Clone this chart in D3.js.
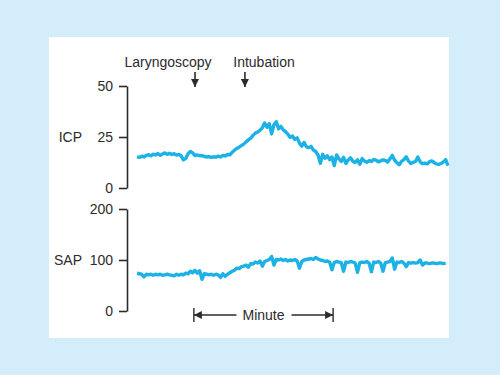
<!DOCTYPE html>
<html>
<head>
<meta charset="utf-8">
<script src="https://cdn.jsdelivr.net/npm/d3@7"></script>
<style>
  body { margin: 0; background: #d3eefa; }
  svg { display: block; font-family: "Liberation Sans", Arial, sans-serif; }
</style>
</head>
<body>
<div id="chart"></div>
<script>
// one sample per second
const icp = [15.3, 15.0, 15.6, 15.2, 16.0, 16.3, 15.8, 16.6, 16.2, 16.9,
  16.0, 16.7, 17.2, 16.5, 17.0, 16.4, 16.8, 16.1, 16.5, 15.8,
  13.8, 14.5, 16.8, 17.9, 17.2, 15.9, 16.2, 15.8, 15.9, 15.5,
  15.2, 15.4, 15.0, 15.3, 15.1, 15.6, 15.2, 16.0, 15.7, 16.4,
  16.3, 17.5, 18.5, 19.4, 20.0, 20.8, 21.5, 22.6, 23.6, 24.4,
  25.8, 26.9, 27.5, 28.3, 29.5, 31.8, 29.8, 31.5, 26.5, 31.0,
  32.5, 29.0, 30.2, 28.5, 27.6, 26.4, 24.8, 25.5, 23.8, 24.6,
  22.0, 20.5, 22.3, 20.2, 19.8, 20.4, 18.6, 17.9, 16.2, 12.1,
  16.5, 14.6, 15.8, 13.9, 15.2, 11.0, 16.2, 14.3, 13.0, 15.0,
  12.0, 13.7, 14.8, 13.1, 12.5, 13.8, 11.6, 14.4, 13.2, 12.6,
  13.4, 13.0, 14.0, 13.6, 12.8, 13.3, 13.8, 13.5, 12.7, 14.3,
  16.0, 13.6, 12.4, 11.4, 13.1, 13.9, 15.3, 13.2, 12.0, 12.6,
  13.0, 15.2, 12.8, 11.9, 12.2, 11.8, 12.8, 13.3, 12.5, 11.8,
  11.6, 12.0, 12.8, 13.9, 11.0];

const sap = [74, 73, 72, 67, 72, 71, 72, 70, 72, 71,
  72, 70, 71, 72, 71, 70, 69, 72, 70, 72,
  71, 74, 73, 78, 75, 80, 74, 79, 62, 73,
  72, 71, 72, 70, 72, 71, 66, 73, 68, 72,
  75, 78, 80, 84, 83, 87, 88, 90, 86, 93,
  92, 96, 94, 98, 88, 97, 99, 101, 107, 90,
  101, 100, 102, 99, 101, 98, 100, 99, 101, 98,
  84, 97, 100, 101, 102, 103, 101, 105, 102, 100,
  99, 97, 98, 96, 81, 95, 97, 96, 95, 78,
  96, 95, 97, 96, 94, 76, 95, 96, 95, 97,
  94, 77, 96, 95, 97, 94, 78, 95, 96, 97,
  104, 82, 96, 95, 97, 94, 87, 95, 94, 95,
  94, 95, 100, 90, 94, 94, 93, 94, 94, 93,
  94, 94, 93, 94];

const icpTicks = [0, 25, 50];
const sapTicks = [0, 100, 200];
const eventNames = ["Laryngoscopy", "Intubation"];
const eventTimes = [25, 46.5];
const minuteSpan = [24.5, 84.5];

const W = 500, H = 375;
const traceColor = "#1cb2e6";
const ink = "#2b2b2b";
const fontSize = "14px";

const svg = d3.select("#chart").append("svg")
  .attr("width", W).attr("height", H);

// white panel
svg.append("rect")
  .attr("x", 49).attr("y", 37)
  .attr("width", 400).attr("height", 301)
  .attr("fill", "#fff");

// arrowhead marker
const defs = svg.append("defs");
defs.append("marker")
  .attr("id", "head")
  .attr("viewBox", "0 0 10 10")
  .attr("refX", 10).attr("refY", 5)
  .attr("markerWidth", 8).attr("markerHeight", 8)
  .attr("markerUnits", "userSpaceOnUse")
  .attr("orient", "auto")
  .append("path")
  .attr("d", "M0,0L10,5L0,10Z")
  .attr("fill", ink);

const x = d3.scaleLinear().domain([0, 134]).range([137, 448]);
const yIcp = d3.scaleLinear().domain([0, 50]).range([188, 86]);
const ySap = d3.scaleLinear().domain([0, 200]).range([311, 209]);

function drawAxis(scale, ticks, name) {
  const g = svg.append("g")
    .attr("transform", "translate(127,0)")
    .call(d3.axisLeft(scale).tickValues(ticks).tickSize(8).tickSizeOuter(0).tickPadding(6));
  g.select(".domain").attr("stroke", ink).attr("stroke-width", 1.6);
  g.selectAll(".tick line").attr("stroke", ink).attr("stroke-width", 1.6);
  g.selectAll(".tick text")
    .attr("fill", ink)
    .style("font-size", fontSize)
    .style("font-family", "Liberation Sans, Arial, sans-serif");
  // axis name beside the middle tick
  svg.append("text")
    .attr("x", 82)
    .attr("y", scale(ticks[1]))
    .attr("dy", "0.35em")
    .attr("text-anchor", "end")
    .attr("fill", ink)
    .style("font-size", fontSize)
    .text(name);
}
drawAxis(yIcp, icpTicks, "ICP");
drawAxis(ySap, sapTicks, "SAP");

// traces
const icpLine = d3.line().x((d, i) => x(i)).y(d => yIcp(d));
const sapLine = d3.line().x((d, i) => x(i)).y(d => ySap(d));

[[icp, icpLine], [sap, sapLine]].forEach(([data, gen]) => {
  svg.append("path")
    .datum(data)
    .attr("d", gen)
    .attr("fill", "none")
    .attr("stroke", traceColor)
    .attr("stroke-width", 3.4)
    .attr("stroke-linejoin", "round");
});

// event labels + down arrows
const labelX = [168, 264];
eventNames.forEach((name, i) => {
  svg.append("text")
    .attr("x", labelX[i])
    .attr("y", 67)
    .attr("text-anchor", "middle")
    .attr("fill", ink)
    .style("font-size", fontSize)
    .text(name);
  svg.append("line")
    .attr("x1", x(eventTimes[i])).attr("x2", x(eventTimes[i]))
    .attr("y1", 72).attr("y2", 87)
    .attr("stroke", ink).attr("stroke-width", 1.6)
    .attr("marker-end", "url(#head)");
});

// minute bracket
const my = 315;
const mx0 = x(minuteSpan[0]), mx1 = x(minuteSpan[1]);
const mid = (mx0 + mx1) / 2;
svg.append("text")
  .attr("x", mid).attr("y", my)
  .attr("dy", "0.35em")
  .attr("text-anchor", "middle")
  .attr("fill", ink)
  .style("font-size", fontSize)
  .text("Minute");
svg.append("line")
  .attr("x1", mid - 27).attr("x2", mx0)
  .attr("y1", my).attr("y2", my)
  .attr("stroke", ink).attr("stroke-width", 1.6)
  .attr("marker-end", "url(#head)");
svg.append("line")
  .attr("x1", mid + 28).attr("x2", mx1)
  .attr("y1", my).attr("y2", my)
  .attr("stroke", ink).attr("stroke-width", 1.6)
  .attr("marker-end", "url(#head)");
[mx0, mx1].forEach(v => {
  svg.append("line")
    .attr("x1", v).attr("x2", v)
    .attr("y1", my - 7).attr("y2", my + 7)
    .attr("stroke", ink).attr("stroke-width", 1.4);
});
</script>
</body>
</html>
